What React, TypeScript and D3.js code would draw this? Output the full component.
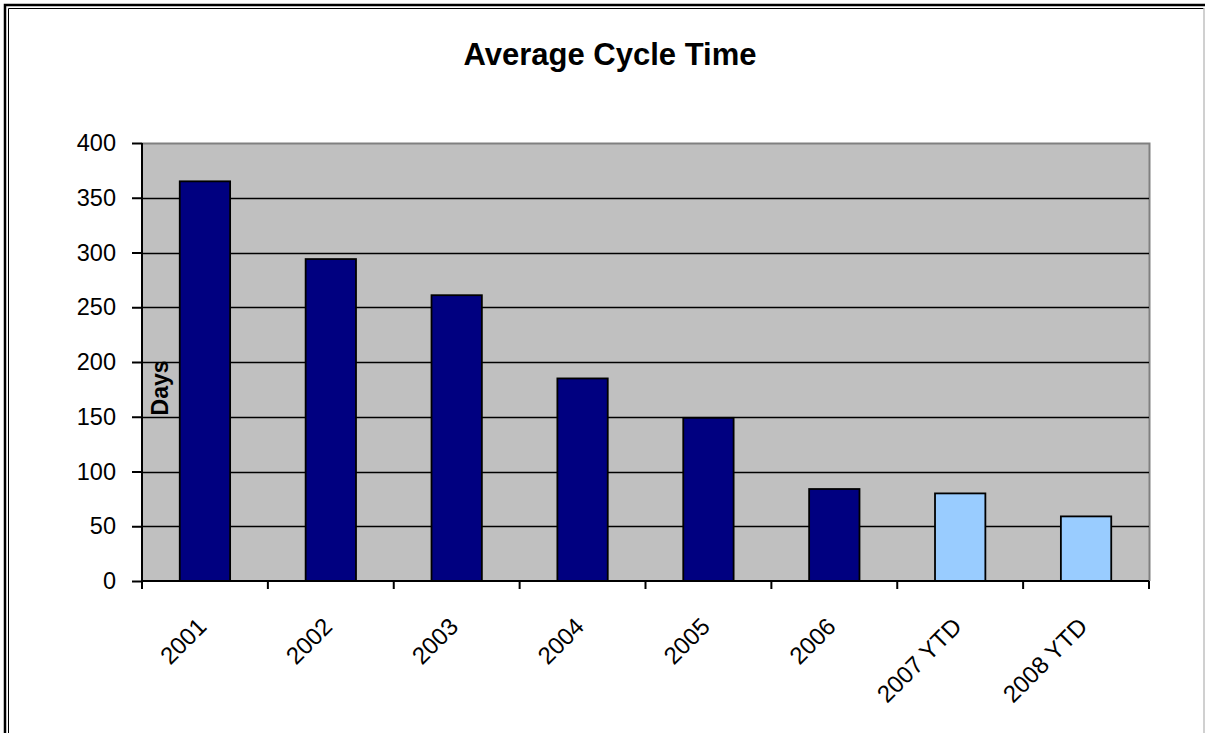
import * as d3 from "d3";
import { useEffect, useRef } from "react";

const categories = ["2001", "2002", "2003", "2004", "2005", "2006", "2007 YTD", "2008 YTD"];
const days = [365, 294, 261, 185, 149, 84, 80, 59];
const periods = ["full", "full", "full", "full", "full", "full", "ytd", "ytd"];
const yTicks = [0, 50, 100, 150, 200, 250, 300, 350, 400];

export default function App() {
  const ref = useRef<SVGSVGElement | null>(null);

  useEffect(() => {
    if (!ref.current) return;
    const svg = d3.select(ref.current);
    svg.selectAll("*").remove();

    const width = 1205;
    const height = 733;
    const plot = { left: 142, right: 1149, top: 143, bottom: 581 };
    const font = "'Liberation Sans', Arial, sans-serif";

    const data = categories.map((c, i) => ({ cat: c, value: days[i], period: periods[i] }));

    const x = d3.scaleBand().domain(categories).range([plot.left, plot.right]).padding(0);
    const xBar = d3
      .scaleBand()
      .domain(categories)
      .range([plot.left, plot.right])
      .paddingInner(0.6)
      .paddingOuter(0.3);
    const y = d3.scaleLinear().domain([0, 400]).range([plot.bottom, plot.top]);
    const color = d3.scaleOrdinal<string>().domain(["full", "ytd"]).range(["#000080", "#99CCFF"]);

    svg.append("rect").attr("width", width).attr("height", height).attr("fill", "#fff");

    // frame (cut off at right / bottom)
    svg
      .append("path")
      .attr("d", `M5,${height} V5 H${width}`)
      .attr("fill", "none")
      .attr("stroke", "#000")
      .attr("stroke-width", 2.5);
    svg
      .append("path")
      .attr("d", `M8.5,${height} V8.5 H1204`)
      .attr("fill", "none")
      .attr("stroke", "#000")
      .attr("stroke-width", 1);
    svg
      .append("line")
      .attr("x1", 1204)
      .attr("x2", 1204)
      .attr("y1", 8)
      .attr("y2", height)
      .attr("stroke", "#c0c0c0")
      .attr("stroke-width", 1.5);

    svg
      .append("text")
      .attr("x", 610)
      .attr("y", 65)
      .attr("text-anchor", "middle")
      .attr("font-family", font)
      .attr("font-weight", "bold")
      .attr("font-size", 31)
      .text("Average Cycle Time");

    // plot area
    svg
      .append("rect")
      .attr("x", plot.left)
      .attr("y", plot.top)
      .attr("width", plot.right - plot.left)
      .attr("height", plot.bottom - plot.top)
      .attr("fill", "#c0c0c0");

    svg
      .append("path")
      .attr("d", `M${plot.left},${plot.top + 0.5} H${plot.right + 0.5} V${plot.bottom}`)
      .attr("fill", "none")
      .attr("stroke", "#808080")
      .attr("stroke-width", 2);

    svg
      .append("g")
      .selectAll("line")
      .data(yTicks.filter((t) => t > 0 && t < 400))
      .join("line")
      .attr("x1", plot.left)
      .attr("x2", plot.right)
      .attr("y1", (d) => Math.round(y(d)) + 0.5)
      .attr("y2", (d) => Math.round(y(d)) + 0.5)
      .attr("stroke", "#000")
      .attr("stroke-width", 1.5);

    svg
      .append("g")
      .selectAll("rect")
      .data(data)
      .join("rect")
      .attr("x", (d) => xBar(d.cat)!)
      .attr("y", (d) => y(d.value))
      .attr("width", xBar.bandwidth())
      .attr("height", (d) => y(0) - y(d.value))
      .attr("fill", (d) => color(d.period))
      .attr("stroke", "#000")
      .attr("stroke-width", 1.8);

    // y axis
    const yAxis = d3
      .axisLeft(y)
      .tickValues(yTicks)
      .tickSize(10)
      .tickPadding(16)
      .tickFormat((d) => String(d));
    const gy = svg.append("g").attr("transform", `translate(${plot.left},0)`).call(yAxis);
    gy.select(".domain").attr("stroke", "#000").attr("stroke-width", 2).attr("d", `M0,${plot.top}V${plot.bottom + 8}`);
    gy.selectAll(".tick line").attr("stroke", "#000").attr("stroke-width", 2);
    gy.selectAll(".tick text")
      .attr("font-family", font)
      .attr("font-size", 23.5)
      .attr("fill", "#000");

    // x axis
    const gx = svg.append("g").attr("transform", `translate(0,${plot.bottom})`);
    gx.append("line")
      .attr("x1", plot.left)
      .attr("x2", plot.right)
      .attr("stroke", "#000")
      .attr("stroke-width", 2);
    const bounds = [...categories.map((c) => x(c)!), plot.right];
    gx.selectAll("line.tick")
      .data(bounds)
      .join("line")
      .attr("class", "tick")
      .attr("x1", (d) => d)
      .attr("x2", (d) => d)
      .attr("y1", 0)
      .attr("y2", 8)
      .attr("stroke", "#000")
      .attr("stroke-width", 2);
    gx.selectAll("text")
      .data(categories)
      .join("text")
      .attr("transform", (d) => `translate(${x(d)! + x.bandwidth() / 2 + 3},${47}) rotate(-45)`)
      .attr("text-anchor", "end")
      .attr("font-family", font)
      .attr("font-size", 24)
      .attr("fill", "#000")
      .text((d) => d);

    // y label
    svg
      .append("text")
      .attr("transform", `translate(168,388) rotate(-90)`)
      .attr("text-anchor", "middle")
      .attr("font-family", font)
      .attr("font-weight", "bold")
      .attr("font-size", 23)
      .text("Days");
  }, []);

  return (
    <svg
      ref={ref}
      width={1205}
      height={733}
      style={{ position: "absolute", left: 0, top: 0, display: "block" }}
    />
  );
}
